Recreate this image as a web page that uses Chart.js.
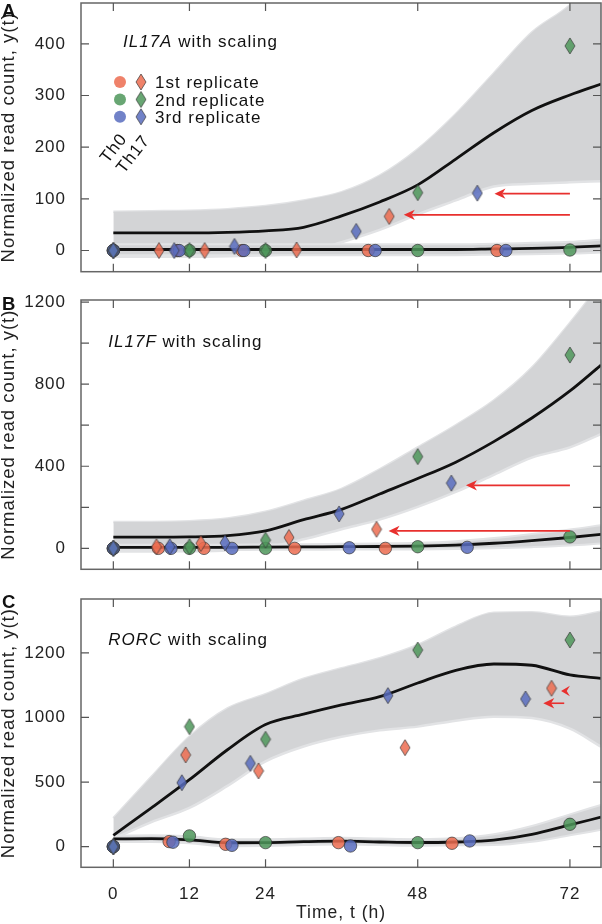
<!DOCTYPE html>
<html><head><meta charset="utf-8">
<script src="https://cdn.jsdelivr.net/npm/chart.js@4.4.0/dist/chart.umd.min.js"></script>
<style>
html,body{margin:0;padding:0;background:#fff;}
#wrap{position:relative;width:602px;height:924px;overflow:hidden;background:#fff;}
canvas{position:absolute;left:0;}
</style></head><body>
<div id="wrap">
<canvas id="cA" width="602" height="290" style="top:0px;width:602px;height:290px"></canvas>
<canvas id="cB" width="602" height="300" style="top:290px;width:602px;height:300px"></canvas>
<canvas id="cC" width="602" height="334" style="top:590px;width:602px;height:334px"></canvas>
</div>
<script>
// ---------- shared axis data ----------
const X_TICKS = [0, 12, 24, 48, 72];
const X_TICK_LABELS = ['0', '12', '24', '48', '72'];
const CURVE_T = [0, 6, 12, 18, 24, 30, 36, 42, 48, 54, 60, 66, 72, 76.9];

// ---------- Panel A : IL17A ----------
const A_Y_TICKS = [0, 100, 200, 300, 400];
const A_Y_LABELS = ['0', '100', '200', '300', '400'];
const A_TH0_REP1 = [[0,0],[10.1,0],[20.3,0],[40.2,0],[60.5,0]];
const A_TH0_REP2 = [[0,0],[12,0],[24,0],[48,0],[72,1]];
const A_TH0_REP3 = [[0,0],[10.4,0],[20.6,0],[41.3,0],[61.9,0]];
const A_TH17_REP1 = [[0,0],[7.2,0],[14.4,0],[28.9,1],[43.5,66]];
const A_TH17_REP2 = [[0,0],[12,0],[24,0],[48,112],[72,396]];
const A_TH17_REP3 = [[0,0],[9.6,0],[19.1,8],[38.3,37],[57.4,111]];
const A_TH17_MEAN  = [34,34,34,35,38,45,67,94,127,177,228,271,301,322];
const A_TH17_UPPER = [75,76,77,80,86,97,113,145,196,264,343,422,475,540];
const A_TH17_LOWER = [-12,-12,-12,-11,-9,-5,16,40,70,97,124,129,132,134];
const A_TH0_MEAN  = [2,2,2,2,2,2,2,2,2,2,3,4,6,9];
const A_TH0_UPPER = [12,12,12,12,12,12,12,12,12,12,13,15,17,21];
const A_TH0_LOWER = [-9,-9,-9,-9,-9,-9,-9,-9,-9,-9,-8,-7,-6,-4];
const A_ARROWS = [[72,110,60.1,110],[72,69,45.8,69]];

// ---------- Panel B : IL17F ----------
const B_Y_TICKS = [0, 200, 400, 600, 800, 1000, 1200];
const B_Y_LABELS = ['0', '', '400', '', '800', '', '1200'];
const B_TH0_REP1 = [[0,0],[7.1,0],[14.3,0],[28.6,0],[42.9,0]];
const B_TH0_REP2 = [[0,0],[12,0],[24,0],[48,8],[72,56]];
const B_TH0_REP3 = [[0,0],[9.1,0],[18.7,0],[37.2,3],[55.8,5]];
const B_TH17_REP1 = [[0,0],[6.8,8],[13.8,24],[27.7,53],[41.5,93]];
const B_TH17_REP2 = [[0,0],[12,8],[24,40],[48,447],[72,942]];
const B_TH17_REP3 = [[0,0],[8.9,8],[17.6,27],[35.6,168],[53.3,318]];
const B_TH17_MEAN  = [55,55,56,62,85,140,190,265,340,420,520,635,767,893];
const B_TH17_UPPER = [129,129,132,145,178,232,290,385,492,600,720,880,1098,1290];
const B_TH17_LOWER = [-15,-15,-14,-10,5,44,93,140,202,275,358,442,492,557];
const B_TH0_MEAN  = [5,5,5,5,6,7,8,9,11,16,25,38,53,68];
const B_TH0_UPPER = [18,18,18,18,19,20,22,24,27,35,50,70,92,113];
const B_TH0_LOWER = [-8,-8,-8,-8,-7,-7,-6,-6,-5,-3,0,6,14,24];
const B_ARROWS = [[72,307,55.6,307],[72,85,43.4,85]];

// ---------- Panel C : RORC ----------
const C_Y_TICKS = [0, 500, 1000, 1500];
const C_Y_LABELS = ['0', '500', '1000', '1200'];
const C_TH0_REP1 = [[0,0],[8.8,39],[17.7,18],[35.5,31],[53.4,26]];
const C_TH0_REP2 = [[0,0],[12,83],[24,31],[48,31],[72,173]];
const C_TH0_REP3 = [[0,0],[9.4,34],[18.7,10],[37.4,5],[56.2,44]];
const C_TH17_REP1 = [[0,0],[11.4,710],[22.9,586],[46,766],[69.1,1226]];
const C_TH17_REP2 = [[0,0],[12,929],[24,831],[48,1522],[72,1600]];
const C_TH17_REP3 = [[0,0],[10.8,495],[21.6,645],[43.3,1169],[65,1143]];
const C_TH17_MEAN  = [88,300,518,750,945,1025,1097,1161,1267,1365,1414,1404,1329,1303];
const C_TH17_UPPER = [220,540,852,1070,1180,1300,1381,1458,1561,1703,1810,1815,1780,1819];
const C_TH17_LOWER = [60,190,300,470,660,775,850,900,929,975,1006,995,913,774];
const C_TH0_MEAN  = [60,62,52,30,31,38,42,36,32,36,50,95,168,228];
const C_TH0_UPPER = [85,88,80,58,58,63,68,62,58,64,95,160,250,323];
const C_TH0_LOWER = [35,36,26,3,5,12,16,12,6,10,12,38,88,130];
const C_ARROWS = [[71.1,1110,67.8,1110],[72,1205,70.6,1205]];

const LEGEND_LABELS = ['1st replicate', '2nd replicate', '3rd replicate'];
const Y_TITLE = 'Normalized read count, y(t)';
const X_TITLE = 'Time, t (h)';

// ---------- styles ----------
const FONT = 'Liberation Sans, Arial, Helvetica, sans-serif';
const REP_COLORS = ['rgba(236,108,80,0.85)', 'rgba(78,150,90,0.85)', 'rgba(88,108,190,0.85)'];
const EDGE = 'rgba(50,50,50,0.85)';
const BAND = '#d3d4d6';
const BAND_EDGE = '#e2e3e5';
const ARROW = '#e8302e';

function diamondImg(color) {
  const c = document.createElement('canvas');
  c.width = 12; c.height = 18;
  const x = c.getContext('2d');
  x.beginPath(); x.moveTo(6, 1); x.lineTo(11, 9); x.lineTo(6, 17); x.lineTo(1, 9); x.closePath();
  x.fillStyle = color; x.fill();
  x.lineWidth = 0.8; x.strokeStyle = EDGE; x.stroke();
  return c;
}
const DIAMONDS = REP_COLORS.map(diamondImg);

const toPts = arr => arr.map(p => ({x: p[0], y: p[1]}));
const toCurve = vs => CURVE_T.map((t, i) => ({x: t, y: vs[i]}));

function drawArrow(ctx, x0, y0, x1, y1) {
  const dx = x1 - x0, dy = y1 - y0, L = Math.hypot(dx, dy);
  const ux = dx / L, uy = dy / L;
  const hl = Math.min(11, L), hw = 5.2, notch = 3.2;
  const bx = x1 - ux * hl, by = y1 - uy * hl;
  ctx.save();
  ctx.strokeStyle = ARROW; ctx.fillStyle = ARROW; ctx.lineWidth = 1.6;
  if (L > hl + 0.5) { ctx.beginPath(); ctx.moveTo(x0, y0); ctx.lineTo(bx + ux * notch, by + uy * notch); ctx.stroke(); }
  ctx.beginPath();
  ctx.moveTo(x1, y1);
  ctx.lineTo(bx - uy * hw, by + ux * hw);
  ctx.lineTo(bx + ux * notch, by + uy * notch);
  ctx.lineTo(bx + uy * hw, by - ux * hw);
  ctx.closePath(); ctx.fill();
  ctx.restore();
}

function makePanel(cfg) {
  const datasets = [
    {data: toCurve(cfg.th17Upper), borderColor: BAND_EDGE, borderWidth: 2.5, pointRadius: 0, fill: false, order: 5, cubicInterpolationMode: 'monotone'},
    {data: toCurve(cfg.th17Lower), borderColor: BAND_EDGE, borderWidth: 2.5, pointRadius: 0, fill: 0, backgroundColor: BAND, order: 4, cubicInterpolationMode: 'monotone'},
    {data: toCurve(cfg.th0Upper), borderColor: BAND_EDGE, borderWidth: 2, pointRadius: 0, fill: false, order: 3, cubicInterpolationMode: 'monotone'},
    {data: toCurve(cfg.th0Lower), borderColor: BAND_EDGE, borderWidth: 2, pointRadius: 0, fill: 2, backgroundColor: BAND, order: 3, cubicInterpolationMode: 'monotone'},
    {data: toCurve(cfg.th17Mean), borderColor: '#111', borderWidth: 2.8, pointRadius: 0, fill: false, order: 2, cubicInterpolationMode: 'monotone'},
    {data: toCurve(cfg.th0Mean), borderColor: '#111', borderWidth: 2.8, pointRadius: 0, fill: false, order: 2, cubicInterpolationMode: 'monotone'},
  ];
  cfg.th0.forEach((s, i) => datasets.push({
    data: toPts(s), showLine: false, pointStyle: 'circle', pointRadius: 6.2,
    pointBackgroundColor: REP_COLORS[i], pointBorderColor: EDGE, pointBorderWidth: 0.8,
    order: 1 + (2 - i) * 0.1, clip: false
  }));
  cfg.th17.forEach((s, i) => datasets.push({
    data: toPts(s), showLine: false, pointStyle: DIAMONDS[i], pointRadius: 8,
    order: (2 - i) * 0.1, clip: false
  }));

  const deco = {
    id: 'deco',
    beforeUpdate(chart) { chart.ctx.letterSpacing = '1px'; },
    afterDatasetsDraw(chart) {
      const {ctx, scales: {x, y}} = chart;
      cfg.arrows.forEach(a => drawArrow(ctx, x.getPixelForValue(a[0]), y.getPixelForValue(a[1]),
                                              x.getPixelForValue(a[2]), y.getPixelForValue(a[3])));
    },
    afterDraw(chart) {
      const {ctx, chartArea: ca, scales: {x, y}} = chart;
      ctx.save();
      ctx.letterSpacing = '1px';
      ctx.strokeStyle = '#666'; ctx.lineWidth = 1.5;
      ctx.strokeRect(ca.left, ca.top, ca.right - ca.left, ca.bottom - ca.top);
      ctx.lineWidth = 1.2; ctx.strokeStyle = '#555';
      ctx.beginPath();
      X_TICKS.forEach(v => { const px = x.getPixelForValue(v);
        ctx.moveTo(px, ca.bottom); ctx.lineTo(px, ca.bottom - 8);
        ctx.moveTo(px, ca.top); ctx.lineTo(px, ca.top + 8); });
      cfg.yTicks.forEach(v => { const py = y.getPixelForValue(v);
        ctx.moveTo(ca.left, py); ctx.lineTo(ca.left + 8, py);
        ctx.moveTo(ca.right, py); ctx.lineTo(ca.right - 8, py); });
      ctx.stroke();
      ctx.fillStyle = '#111'; ctx.textBaseline = 'alphabetic'; ctx.textAlign = 'left';
      ctx.font = 'bold 18.5px ' + FONT;
      ctx.fillText(cfg.letter, 2, cfg.letterBase);
      ctx.font = 'italic 17px ' + FONT;
      ctx.fillText(cfg.gene, cfg.titleX, cfg.titleBase);
      const w = ctx.measureText(cfg.gene).width;
      ctx.font = '17px ' + FONT;
      ctx.fillText(' with scaling', cfg.titleX + w, cfg.titleBase);
      if (cfg.legend) {
        const rows = [82, 99.5, 116.8];
        rows.forEach((ry, i) => {
          ctx.beginPath(); ctx.arc(120, ry, 6, 0, Math.PI * 2);
          ctx.fillStyle = REP_COLORS[i]; ctx.fill();
          ctx.drawImage(DIAMONDS[i], 141 - 6, ry - 9);
          ctx.fillStyle = '#111'; ctx.font = '17px ' + FONT;
          ctx.fillText(LEGEND_LABELS[i], 155, ry + 6.2);
        });
        ctx.textAlign = 'center'; ctx.textBaseline = 'middle';
        [['Th0', 114, 148.5], ['Th17', 133.5, 154.5]].forEach(([t, cx, cy]) => {
          ctx.save(); ctx.translate(cx, cy); ctx.rotate(-52 * Math.PI / 180);
          ctx.fillText(t, 0, 0); ctx.restore();
        });
      }
      ctx.restore();
    }
  };

  return new Chart(document.getElementById(cfg.canvas), {
    type: 'line',
    data: {datasets},
    options: {
      responsive: false, animation: false, events: [],
      layout: {autoPadding: false, padding: {top: cfg.topPad, right: 1, left: 0, bottom: 0}},
      plugins: {legend: {display: false}, tooltip: {enabled: false}},
      scales: {
        x: {
          type: 'linear', min: -5.1, max: 76.9,
          afterBuildTicks: s => { s.ticks = X_TICKS.map(v => ({value: v})); },
          afterFit: s => { s.height = cfg.xHeight; s.paddingLeft = 0; s.paddingRight = 0; },
          grid: {display: false, drawTicks: false}, border: {display: false},
          ticks: {display: cfg.showX, autoSkip: false, maxRotation: 0, padding: 16.5,
                  color: '#222', font: {family: FONT, size: 17},
                  callback: v => X_TICK_LABELS[X_TICKS.indexOf(v)]},
          title: {display: cfg.showX, text: X_TITLE, color: '#222',
                  font: {family: FONT, size: 17.5, lineHeight: 1}, padding: {top: 0, bottom: 2.5}}
        },
        y: {
          type: 'linear', min: cfg.yMin, max: cfg.yMax,
          afterBuildTicks: s => { s.ticks = cfg.yTicks.map(v => ({value: v})); },
          afterFit: s => { s.width = 81; s.paddingTop = 0; s.paddingBottom = 0; },
          grid: {display: false, drawTicks: false}, border: {display: false},
          ticks: {padding: 15, color: '#222', font: {family: FONT, size: 17},
                  callback: v => cfg.yLabels[cfg.yTicks.indexOf(v)]},
          title: {display: true, text: Y_TITLE, color: '#222',
                  font: {family: FONT, size: 18.5, lineHeight: 1}, padding: 0}
        }
      }
    },
    plugins: [deco]
  });
}

makePanel({canvas: 'cA', letter: 'A', letterBase: 16.7, gene: 'IL17A', titleX: 123, titleBase: 46.7, legend: true,
  topPad: 3, xHeight: 18.3, showX: false, yMin: -41, yMax: 479, yTicks: A_Y_TICKS, yLabels: A_Y_LABELS,
  th0: [A_TH0_REP1, A_TH0_REP2, A_TH0_REP3], th17: [A_TH17_REP1, A_TH17_REP2, A_TH17_REP3],
  th17Mean: A_TH17_MEAN, th17Upper: A_TH17_UPPER, th17Lower: A_TH17_LOWER,
  th0Mean: A_TH0_MEAN, th0Upper: A_TH0_UPPER, th0Lower: A_TH0_LOWER, arrows: A_ARROWS});

makePanel({canvas: 'cB', letter: 'B', letterBase: 20, gene: 'IL17F', titleX: 108.3, titleBase: 56.7, legend: false,
  topPad: 10, xHeight: 20.7, showX: false, yMin: -102, yMax: 1210, yTicks: B_Y_TICKS, yLabels: B_Y_LABELS,
  th0: [B_TH0_REP1, B_TH0_REP2, B_TH0_REP3], th17: [B_TH17_REP1, B_TH17_REP2, B_TH17_REP3],
  th17Mean: B_TH17_MEAN, th17Upper: B_TH17_UPPER, th17Lower: B_TH17_LOWER,
  th0Mean: B_TH0_MEAN, th0Upper: B_TH0_UPPER, th0Lower: B_TH0_LOWER, arrows: B_ARROWS});

makePanel({canvas: 'cC', letter: 'C', letterBase: 18, gene: 'RORC', titleX: 108.3, titleBase: 55, legend: false,
  topPad: 9, xHeight: 56.7, showX: true, yMin: -160, yMax: 1917, yTicks: C_Y_TICKS, yLabels: C_Y_LABELS,
  th0: [C_TH0_REP1, C_TH0_REP2, C_TH0_REP3], th17: [C_TH17_REP1, C_TH17_REP2, C_TH17_REP3],
  th17Mean: C_TH17_MEAN, th17Upper: C_TH17_UPPER, th17Lower: C_TH17_LOWER,
  th0Mean: C_TH0_MEAN, th0Upper: C_TH0_UPPER, th0Lower: C_TH0_LOWER, arrows: C_ARROWS});
</script>
</body></html>
